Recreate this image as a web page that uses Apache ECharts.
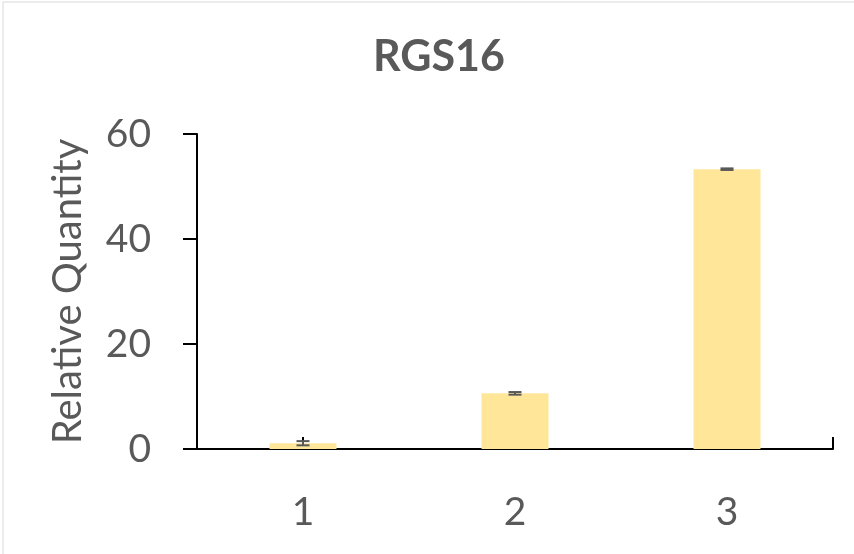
<!DOCTYPE html>
<html><head><meta charset="utf-8">
<script src="https://cdn.jsdelivr.net/npm/echarts@6/dist/echarts.min.js"></script>
<style>html,body{margin:0;padding:0;background:#fff}#c{width:854px;height:554px}</style>
</head><body><div id="c"></div>
<script>
const categories = ['1', '2', '3'];
const values = [1.1, 10.6, 53.3];
const errors = [0.4, 0.25, 0.15];
const titleText = 'RGS16';
const yName = 'Relative Quantity';

const chart = echarts.init(document.getElementById('c'));
const FONT = 'Lato';
const option = {
  animation: false,
  backgroundColor: '#fff',
  title: {
    text: titleText, left: 434, top: 31, textAlign: 'center',
    textStyle: {fontFamily: FONT, fontSize: 43, fontWeight: 'bold', color: '#595959'}
  },
  grid: {left: 197, right: 21, top: 134, bottom: 105},
  xAxis: {
    type: 'category', data: categories,
    axisLine: {lineStyle: {color: '#000', width: 2}},
    axisTick: {show: true, inside: true, length: 12, alignWithLabel: true, lineStyle: {color: '#000', width: 2}},
    axisLabel: {fontFamily: FONT, fontSize: 39, color: '#595959', margin: 44}
  },
  yAxis: {
    type: 'value', min: 0, max: 60, interval: 20,
    name: yName, nameLocation: 'middle', nameGap: 109,
    nameTextStyle: {fontFamily: FONT, fontSize: 40, color: '#595959'},
    axisLine: {show: true, lineStyle: {color: '#000', width: 2}},
    axisTick: {show: true, length: 14, lineStyle: {color: '#000', width: 2}},
    splitLine: {show: false},
    axisLabel: {fontFamily: FONT, fontSize: 39, color: '#595959', margin: 46}
  },
  series: [
    {
      type: 'bar', data: values, barWidth: '31.6%',
      itemStyle: {color: '#FFE699'}, z: 3
    },
    {
      type: 'custom', z: 4,
      data: values.map((v, i) => [i, v, errors[i]]),
      renderItem: function (params, api) {
        const x = api.value(0), v = api.value(1), e = api.value(2);
        const hi = api.coord([x, v + e]);
        const lo = api.coord([x, v - e]);
        const w = 6.5;
        const style = {stroke: '#595959', lineWidth: 2};
        return {type: 'group', children: [
          {type: 'line', shape: {x1: hi[0], y1: hi[1], x2: lo[0], y2: lo[1]}, style: style},
          {type: 'line', shape: {x1: hi[0] - w, y1: hi[1], x2: hi[0] + w, y2: hi[1]}, style: style},
          {type: 'line', shape: {x1: lo[0] - w, y1: lo[1], x2: lo[0] + w, y2: lo[1]}, style: style}
        ]};
      }
    }
  ]
};
chart.setOption(option);
const p0 = chart.convertToPixel({gridIndex: 0}, [0, 0]);
const gridRect = chart.getModel().getComponent('grid').coordinateSystem.getRect();
chart.setOption({
  graphic: [
    {type: 'line', shape: {x1: gridRect.x + gridRect.width, y1: p0[1] - 12, x2: gridRect.x + gridRect.width, y2: p0[1]}, style: {stroke: '#000', lineWidth: 2}, z: 10},
    {type: 'rect', shape: {x: 3, y: 2, width: 860, height: 560}, style: {fill: 'none', stroke: '#d9d9d9', lineWidth: 1}, z: -1}
  ]
});
</script></body></html>
